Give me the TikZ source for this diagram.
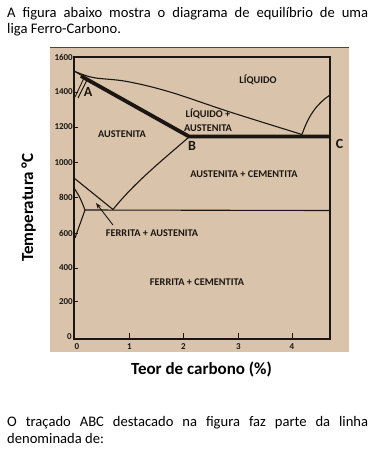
\documentclass[tikz,border=0pt]{standalone}
\usepackage{fontspec}
\setmainfont{Carlito}
\usetikzlibrary{arrows.meta}
\definecolor{beige}{RGB}{217,196,171}
\definecolor{ink}{RGB}{28,22,18}
\begin{document}
\begin{tikzpicture}[x=1pt,y=-1pt,
  body/.style={font=\fontsize{14.6}{17}\selectfont, anchor=base west, inner sep=0pt},
  region/.style={font=\fontsize{10.3}{11}\selectfont\bfseries, text=ink, inner sep=0pt},
  ticklab/.style={font=\fontsize{9}{10}\selectfont\bfseries, text=ink, inner sep=0pt},
  ptlab/.style={font=\fontsize{14}{15}\selectfont\bfseries, text=ink, inner sep=0pt},
  axlab/.style={font=\fontsize{17}{18}\selectfont\bfseries, inner sep=0pt, anchor=base},
  frameline/.style={draw=ink, line width=1.3pt},
  curve/.style={draw=ink, line width=1.1pt},
  thinline/.style={draw=ink, line width=0.9pt},
  heavy/.style={draw=ink, line width=3.8pt, line join=round},
]
\useasboundingbox (0,0) rectangle (375,453);
\fill[white] (0,0) rectangle (375,453);
% beige panel
\fill[beige] (50,47.5) rectangle (349,352);
\draw[ink!80, line width=0.8pt] (50,47.5) -- (349,47.5);

% text above and below
\node[body] (l1) at (7,17) {\makebox[361pt][s]{A figura abaixo mostra o diagrama de equilíbrio de uma}};
\node[body] (l2) at (7,33) {liga Ferro-Carbono.};
\node[body] (l3) at (7,426) {\makebox[361pt][s]{O traçado ABC destacado na figura faz parte da linha}};
\node[body] (l4) at (7,443) {denominada de:};

% frame
\draw[frameline] (74,57) rectangle (330,339);

% y ticks
\foreach \t/\y in {1600/57,1400/92,1200/127,1000/162.5,800/197,600/233,400/268,200/301.5} {
  \draw[thinline] (74,\y) -- (78,\y);
  \node[ticklab, anchor=east] (yt\t) at (73,\y) {\t};
}
\node[ticklab, anchor=east] (yt0) at (72,337) {0};
% x ticks
\node[ticklab] (xt0) at (77,347) {0};
\foreach \c/\x in {1/129.5,2/183.5,3/238.5,4/292} {
  \draw[thinline] (\x,339) -- (\x,333);
  \node[ticklab] (xt\c) at (\x,346.5) {\c};
}

% liquidus
\draw[curve] plot[smooth, tension=0.6] coordinates {(74,71) (93,77.5) (127,81.5) (170,92) (230,112) (302,134.5)};
\draw[curve] (302,134.5) .. controls (309,114) and (318,103) .. (330,95);
% peritectic details
\draw[thinline] (74,71) -- (84,77);
\draw[thinline] (75,97) -- (84,78);
\draw[thinline] (78,98) -- (87,80);
% heavy ABC
\draw[heavy] (81,76) -- (189,136.5) -- (330,136.5);
% Acm
\draw[curve] (189,137) .. controls (165,158) and (135,182) .. (113,209.5);
% A3
\draw[curve] (74,178) -- (113,209.5);
% eutectoid
\draw[curve] (85,210) -- (330,210.5);
% ferrite
\draw[curve] (74,188) .. controls (79,195) and (82,202) .. (85,210) -- (75,238);
% arrow
\draw[thinline, -{Stealth[length=6pt,width=4.5pt]}] (113,225) -- (96,203);

% region labels
\node[region] (liq) at (258,80) {LÍQUIDO};
\node[region] (liqa1) at (208,113.5) {LÍQUIDO +};
\node[region] (liqa2) at (208,128) {AUSTENITA};
\node[region] (aus) at (122,134.5) {AUSTENITA};
\node[region] (auscem) at (244,174) {AUSTENITA + CEMENTITA};
\node[region] (feraus) at (152,233.5) {FERRITA + AUSTENITA};
\node[region] (fercem) at (197,282) {FERRITA + CEMENTITA};

% points
\node[ptlab] (A) at (88,92) {A};
\node[ptlab] (B) at (192,145.5) {B};
\node[ptlab] (C) at (339.5,144) {C};

% axis labels
\node[axlab, rotate=90] (ylab) at (33,207.5) {Temperatura °C};
\node[axlab] (xlab) at (201.5,374) {Teor de carbono (\%)};
\end{tikzpicture}
\end{document}
